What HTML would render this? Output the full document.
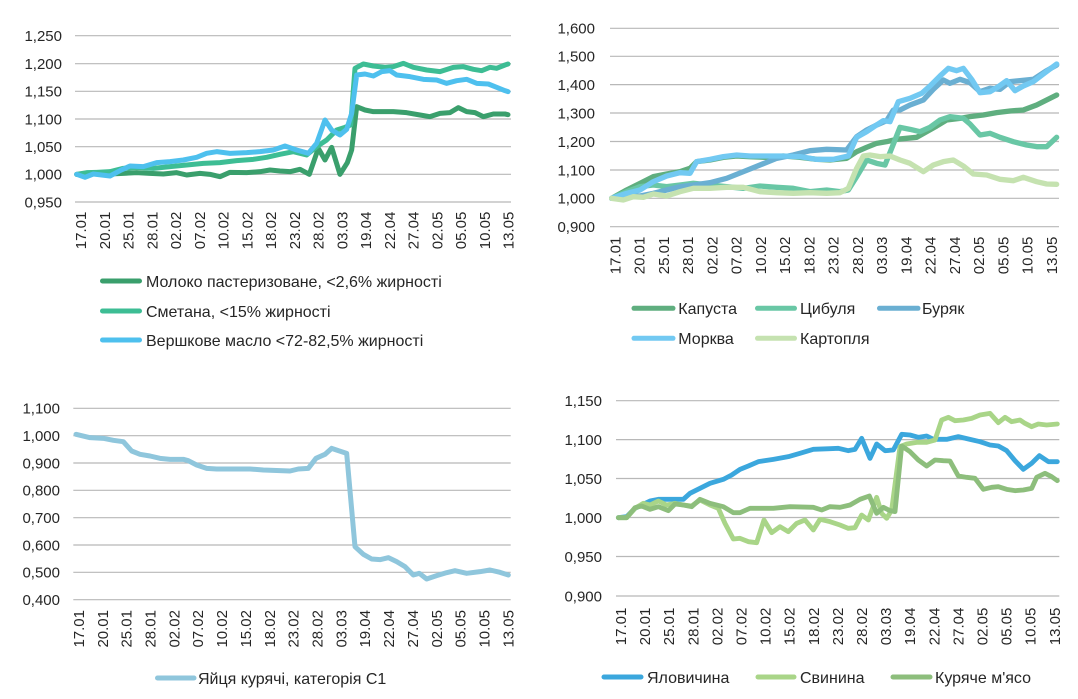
<!DOCTYPE html>
<html><head><meta charset="utf-8"><style>
html,body{margin:0;padding:0;background:#fff;}
svg{display:block;}
text{font-family:"Liberation Sans","DejaVu Sans",sans-serif;fill:#262626;}
.yl{font-size:15px;text-anchor:end;}
.xl{font-size:15px;text-anchor:end;}
.lg{font-size:16px;}
.g line{stroke:#b8b8b8;stroke-width:1.2;}
polyline{fill:none;stroke-linejoin:round;stroke-linecap:round;}
.leg{stroke-width:5;stroke-linecap:round;}
</style></head><body>
<svg width="1078" height="699" viewBox="0 0 1078 699" xmlns="http://www.w3.org/2000/svg">
<rect width="1078" height="699" fill="#fff"/>

<!-- ===== Chart 1 ===== -->
<g class="g">
<line x1="75" x2="511" y1="35.7" y2="35.7"/><line x1="75" x2="511" y1="63.7" y2="63.7"/><line x1="75" x2="511" y1="91.3" y2="91.3"/><line x1="75" x2="511" y1="119" y2="119"/><line x1="75" x2="511" y1="146.7" y2="146.7"/><line x1="75" x2="511" y1="174.3" y2="174.3"/><line x1="75" x2="511" y1="202" y2="202"/>
</g>
<text class="yl" x="62" y="41">1,250</text><text class="yl" x="62" y="69">1,200</text><text class="yl" x="62" y="96.6">1,150</text><text class="yl" x="62" y="124.3">1,100</text><text class="yl" x="62" y="152">1,050</text><text class="yl" x="62" y="179.6">1,000</text><text class="yl" x="62" y="207.3">0,950</text>
<g transform="translate(60,40) scale(0.33333)" stroke-width="15">
<polyline stroke="#3a9f6c" points="50,403 80,405 110,400 150,402 190,400 230,398 270,400 310,402 350,398 380,405 420,400 450,403 480,410 510,397 560,398 600,395 630,390 660,393 690,395 720,388 748,403 775,325 795,360 815,322 840,403 862,368 875,330 890,200 915,210 940,215 1000,215 1040,218 1080,225 1110,230 1140,220 1170,218 1195,203 1220,215 1245,218 1270,230 1300,222 1335,222 1344,224"/>
<polyline stroke="#3dbd94" points="50,403 80,398 110,397 150,395 190,385 230,382 280,385 330,380 380,375 430,370 480,368 530,362 580,358 620,352 660,343 700,335 740,345 770,320 800,300 830,270 855,262 872,255 885,85 910,72 940,78 975,82 1000,80 1030,70 1060,82 1100,90 1140,95 1180,82 1210,80 1240,88 1265,92 1290,82 1310,85 1335,75 1344,72"/>
<polyline stroke="#4ec0ee" points="50,403 75,412 100,402 125,405 150,408 180,392 210,378 250,380 290,368 330,365 370,360 410,352 440,340 470,335 510,340 560,338 600,335 640,330 675,318 710,330 745,340 770,310 795,240 815,270 840,285 860,268 875,220 890,105 915,102 940,108 965,95 990,92 1010,105 1050,110 1090,118 1130,120 1160,130 1190,122 1220,118 1250,130 1285,132 1310,142 1335,152 1344,155"/>
</g>
<g>
<text class="xl" transform="translate(86.1,211.7) rotate(-90)">17.01</text>
<text class="xl" transform="translate(109.9,211.7) rotate(-90)">20.01</text>
<text class="xl" transform="translate(133.6,211.7) rotate(-90)">25.01</text>
<text class="xl" transform="translate(157.4,211.7) rotate(-90)">28.01</text>
<text class="xl" transform="translate(181.1,211.7) rotate(-90)">02.02</text>
<text class="xl" transform="translate(204.9,211.7) rotate(-90)">07.02</text>
<text class="xl" transform="translate(228.6,211.7) rotate(-90)">10.02</text>
<text class="xl" transform="translate(252.4,211.7) rotate(-90)">15.02</text>
<text class="xl" transform="translate(276.1,211.7) rotate(-90)">18.02</text>
<text class="xl" transform="translate(299.9,211.7) rotate(-90)">23.02</text>
<text class="xl" transform="translate(323.6,211.7) rotate(-90)">28.02</text>
<text class="xl" transform="translate(347.4,211.7) rotate(-90)">03.03</text>
<text class="xl" transform="translate(371.1,211.7) rotate(-90)">19.04</text>
<text class="xl" transform="translate(394.9,211.7) rotate(-90)">22.04</text>
<text class="xl" transform="translate(418.6,211.7) rotate(-90)">27.04</text>
<text class="xl" transform="translate(442.4,211.7) rotate(-90)">02.05</text>
<text class="xl" transform="translate(466.1,211.7) rotate(-90)">05.05</text>
<text class="xl" transform="translate(489.9,211.7) rotate(-90)">10.05</text>
<text class="xl" transform="translate(513.6,211.7) rotate(-90)">13.05</text>
</g>
<line class="leg" x1="102.5" x2="139.5" y1="281" y2="281" stroke="#3a9f6c"/>
<text class="lg" x="146" y="286.8">Молоко пастеризоване, &lt;2,6% жирності</text>
<line class="leg" x1="102.5" x2="139.5" y1="311" y2="311" stroke="#3dbd94"/>
<text class="lg" x="146" y="316.8">Сметана, &lt;15% жирності</text>
<line class="leg" x1="102.5" x2="139.5" y1="340" y2="340" stroke="#4ec0ee"/>
<text class="lg" x="146" y="345.8">Вершкове масло &lt;72-82,5% жирності</text>

<!-- ===== Chart 2 ===== -->
<g class="g">
<line x1="610" x2="1059" y1="28.3" y2="28.3"/><line x1="610" x2="1059" y1="56.3" y2="56.3"/><line x1="610" x2="1059" y1="84.6" y2="84.6"/><line x1="610" x2="1059" y1="113" y2="113"/><line x1="610" x2="1059" y1="141.5" y2="141.5"/><line x1="610" x2="1059" y1="170" y2="170"/><line x1="610" x2="1059" y1="198.3" y2="198.3"/><line x1="610" x2="1059" y1="226.7" y2="226.7"/>
</g>
<text class="yl" x="595" y="33.6">1,600</text><text class="yl" x="595" y="61.6">1,500</text><text class="yl" x="595" y="89.9">1,400</text><text class="yl" x="595" y="118.3">1,300</text><text class="yl" x="595" y="146.8">1,200</text><text class="yl" x="595" y="175.3">1,100</text><text class="yl" x="595" y="203.6">1,000</text><text class="yl" x="595" y="232">0,900</text>
<g transform="translate(600,50) scale(0.33333)" stroke-width="16">
<polyline stroke="#5fae7f" points="35,445 80,420 120,400 160,380 200,372 240,365 270,355 290,335 330,330 370,322 410,318 450,320 500,322 550,318 600,322 650,328 690,330 740,325 770,305 800,292 830,280 860,275 890,268 920,265 950,262 980,245 1010,228 1040,210 1080,205 1110,200 1150,195 1190,188 1230,183 1270,180 1310,165 1340,150 1370,135"/>
<polyline stroke="#69c7a5" points="35,445 80,425 120,410 160,405 200,410 240,405 280,400 330,405 380,410 430,415 480,408 530,412 580,415 630,425 680,420 720,425 745,420 770,380 800,330 830,340 855,345 875,295 900,232 930,238 960,245 990,232 1020,210 1050,200 1090,205 1110,222 1140,255 1170,250 1200,262 1240,275 1280,285 1310,290 1340,290 1370,262"/>
<polyline stroke="#6aafd2" points="35,445 80,435 120,438 160,430 200,420 240,410 280,405 330,398 380,385 430,365 480,345 530,325 580,315 630,302 680,298 740,300 770,260 800,240 830,225 860,212 880,180 900,180 930,165 970,150 1000,118 1030,90 1050,100 1080,88 1110,98 1140,125 1170,115 1200,118 1230,95 1260,92 1300,88 1340,62 1370,45"/>
<polyline stroke="#72c9f2" points="35,445 80,430 120,420 160,395 200,378 240,368 270,370 290,335 330,328 370,320 410,315 450,318 550,318 600,320 650,328 700,328 745,318 770,262 800,245 825,228 850,212 870,215 895,155 930,145 965,130 990,108 1020,78 1045,55 1070,62 1090,55 1115,88 1140,128 1170,125 1195,110 1220,92 1245,122 1270,108 1300,95 1330,72 1370,42"/>
<polyline stroke="#c5e2b0" points="35,445 70,450 100,440 130,442 160,432 200,438 240,425 280,415 330,415 380,412 430,412 480,425 530,428 580,430 630,428 680,430 720,428 745,415 770,355 790,318 810,315 840,320 870,318 900,330 930,340 970,365 1000,345 1030,335 1060,330 1090,348 1120,372 1160,375 1200,388 1240,392 1270,382 1310,395 1340,402 1370,403"/>
</g>
<g>
<text class="xl" transform="translate(620.4,236.7) rotate(-90)">17.01</text>
<text class="xl" transform="translate(644.7,236.7) rotate(-90)">20.01</text>
<text class="xl" transform="translate(668.9,236.7) rotate(-90)">25.01</text>
<text class="xl" transform="translate(693.2,236.7) rotate(-90)">28.01</text>
<text class="xl" transform="translate(717.4,236.7) rotate(-90)">02.02</text>
<text class="xl" transform="translate(741.7,236.7) rotate(-90)">07.02</text>
<text class="xl" transform="translate(765.9,236.7) rotate(-90)">10.02</text>
<text class="xl" transform="translate(790.2,236.7) rotate(-90)">15.02</text>
<text class="xl" transform="translate(814.4,236.7) rotate(-90)">18.02</text>
<text class="xl" transform="translate(838.7,236.7) rotate(-90)">23.02</text>
<text class="xl" transform="translate(862.9,236.7) rotate(-90)">28.02</text>
<text class="xl" transform="translate(887.2,236.7) rotate(-90)">03.03</text>
<text class="xl" transform="translate(911.4,236.7) rotate(-90)">19.04</text>
<text class="xl" transform="translate(935.7,236.7) rotate(-90)">22.04</text>
<text class="xl" transform="translate(959.9,236.7) rotate(-90)">27.04</text>
<text class="xl" transform="translate(984.2,236.7) rotate(-90)">02.05</text>
<text class="xl" transform="translate(1008.4,236.7) rotate(-90)">05.05</text>
<text class="xl" transform="translate(1032.7,236.7) rotate(-90)">10.05</text>
<text class="xl" transform="translate(1056.9,236.7) rotate(-90)">13.05</text>
</g>
<line class="leg" x1="634" x2="673" y1="308.3" y2="308.3" stroke="#5fae7f"/>
<text class="lg" x="678.3" y="314.1">Капуста</text>
<line class="leg" x1="757.5" x2="794.5" y1="308.3" y2="308.3" stroke="#69c7a5"/>
<text class="lg" x="800" y="314.1">Цибуля</text>
<line class="leg" x1="879.5" x2="918" y1="308.3" y2="308.3" stroke="#6aafd2"/>
<text class="lg" x="922" y="314.1">Буряк</text>
<line class="leg" x1="634" x2="673" y1="338.3" y2="338.3" stroke="#72c9f2"/>
<text class="lg" x="678.3" y="344.1">Морква</text>
<line class="leg" x1="757.5" x2="794.5" y1="338.3" y2="338.3" stroke="#c5e2b0"/>
<text class="lg" x="800" y="344.1">Картопля</text>

<!-- ===== Chart 3 ===== -->
<g class="g">
<line x1="73.3" x2="510.7" y1="408.3" y2="408.3"/><line x1="73.3" x2="510.7" y1="435.7" y2="435.7"/><line x1="73.3" x2="510.7" y1="463" y2="463"/><line x1="73.3" x2="510.7" y1="490.3" y2="490.3"/><line x1="73.3" x2="510.7" y1="517.7" y2="517.7"/><line x1="73.3" x2="510.7" y1="545" y2="545"/><line x1="73.3" x2="510.7" y1="572.3" y2="572.3"/><line x1="73.3" x2="510.7" y1="599.7" y2="599.7"/>
</g>
<text class="yl" x="60" y="413.6">1,100</text><text class="yl" x="60" y="441">1,000</text><text class="yl" x="60" y="468.3">0,900</text><text class="yl" x="60" y="495.6">0,800</text><text class="yl" x="60" y="523">0,700</text><text class="yl" x="60" y="550.3">0,600</text><text class="yl" x="60" y="577.6">0,500</text><text class="yl" x="60" y="605">0,400</text>
<g transform="translate(60,395) scale(0.33333)" stroke-width="15">
<polyline stroke="#8fc6dc" points="48,118 90,128 130,130 160,136 190,140 215,168 240,178 270,183 300,190 330,193 370,193 385,197 410,210 440,220 470,222 570,222 610,225 660,227 690,228 715,222 745,220 768,190 795,178 815,160 835,167 860,175 885,455 910,478 935,492 960,494 985,488 1010,500 1035,515 1060,540 1078,535 1100,552 1130,542 1160,533 1185,527 1220,535 1260,530 1290,525 1320,532 1345,540"/>
</g>
<g>
<text class="xl" transform="translate(83.9,610) rotate(-90)">17.01</text>
<text class="xl" transform="translate(107.8,610) rotate(-90)">20.01</text>
<text class="xl" transform="translate(131.6,610) rotate(-90)">25.01</text>
<text class="xl" transform="translate(155.5,610) rotate(-90)">28.01</text>
<text class="xl" transform="translate(179.3,610) rotate(-90)">02.02</text>
<text class="xl" transform="translate(203.2,610) rotate(-90)">07.02</text>
<text class="xl" transform="translate(227.1,610) rotate(-90)">10.02</text>
<text class="xl" transform="translate(250.9,610) rotate(-90)">15.02</text>
<text class="xl" transform="translate(274.8,610) rotate(-90)">18.02</text>
<text class="xl" transform="translate(298.6,610) rotate(-90)">23.02</text>
<text class="xl" transform="translate(322.5,610) rotate(-90)">28.02</text>
<text class="xl" transform="translate(346.4,610) rotate(-90)">03.03</text>
<text class="xl" transform="translate(370.2,610) rotate(-90)">19.04</text>
<text class="xl" transform="translate(394.1,610) rotate(-90)">22.04</text>
<text class="xl" transform="translate(417.9,610) rotate(-90)">27.04</text>
<text class="xl" transform="translate(441.8,610) rotate(-90)">02.05</text>
<text class="xl" transform="translate(465.7,610) rotate(-90)">05.05</text>
<text class="xl" transform="translate(489.5,610) rotate(-90)">10.05</text>
<text class="xl" transform="translate(513.4,610) rotate(-90)">13.05</text>
</g>
<line class="leg" x1="157.5" x2="194" y1="678" y2="678" stroke="#8fc6dc"/>
<text class="lg" x="198" y="683.8">Яйця курячі, категорія С1</text>

<!-- ===== Chart 4 ===== -->
<g class="g">
<line x1="616" x2="1059.3" y1="400.7" y2="400.7"/><line x1="616" x2="1059.3" y1="439.6" y2="439.6"/><line x1="616" x2="1059.3" y1="478.5" y2="478.5"/><line x1="616" x2="1059.3" y1="517.5" y2="517.5"/><line x1="616" x2="1059.3" y1="556.5" y2="556.5"/><line x1="616" x2="1059.3" y1="596" y2="596"/>
</g>
<text class="yl" x="602" y="406">1,150</text><text class="yl" x="602" y="444.9">1,100</text><text class="yl" x="602" y="483.8">1,050</text><text class="yl" x="602" y="522.8">1,000</text><text class="yl" x="602" y="561.8">0,950</text><text class="yl" x="602" y="601.3">0,900</text>
<g transform="translate(600,390) scale(0.33333)" stroke-width="14.5">
<polyline stroke="#3ba7dd" points="55,383 80,380 105,355 125,345 150,333 175,328 250,328 270,310 300,295 330,280 370,268 395,255 420,238 445,228 475,215 520,208 565,200 600,190 640,178 690,176 715,175 745,182 765,178 785,145 810,205 830,162 855,182 880,180 905,133 930,135 955,142 980,138 1000,148 1040,148 1075,140 1110,148 1140,155 1170,165 1195,168 1220,182 1245,212 1270,238 1295,220 1318,197 1345,215 1372,215"/>
<polyline stroke="#a9d588" points="55,383 80,383 105,355 130,340 150,345 175,333 200,345 225,340 250,345 275,348 300,330 330,345 355,355 375,400 400,447 420,445 445,455 470,458 492,390 515,428 540,410 565,425 590,400 615,390 640,420 660,388 690,395 720,405 745,415 765,413 785,375 805,390 830,322 845,370 860,385 875,360 900,170 920,162 950,157 980,157 1005,150 1025,90 1045,82 1065,92 1090,90 1115,85 1140,75 1170,70 1195,98 1215,82 1235,95 1260,90 1275,100 1295,110 1315,102 1340,105 1372,102"/>
<polyline stroke="#8dbe7c" points="55,383 80,383 105,353 125,348 150,358 175,350 205,362 225,342 250,345 275,350 300,328 330,340 370,350 400,368 420,368 450,355 520,355 570,350 640,352 665,360 690,350 720,352 750,345 780,328 808,318 830,370 850,352 870,362 885,365 905,168 930,185 955,210 980,228 1005,210 1030,212 1050,213 1075,258 1100,262 1125,265 1150,298 1175,292 1195,290 1220,298 1245,302 1270,300 1295,295 1310,262 1335,250 1355,260 1372,272"/>
</g>
<g>
<text class="xl" transform="translate(626,607.7) rotate(-90)">17.01</text>
<text class="xl" transform="translate(650.1,607.7) rotate(-90)">20.01</text>
<text class="xl" transform="translate(674.2,607.7) rotate(-90)">25.01</text>
<text class="xl" transform="translate(698.3,607.7) rotate(-90)">28.01</text>
<text class="xl" transform="translate(722.4,607.7) rotate(-90)">02.02</text>
<text class="xl" transform="translate(746.5,607.7) rotate(-90)">07.02</text>
<text class="xl" transform="translate(770.6,607.7) rotate(-90)">10.02</text>
<text class="xl" transform="translate(794.7,607.7) rotate(-90)">15.02</text>
<text class="xl" transform="translate(818.8,607.7) rotate(-90)">18.02</text>
<text class="xl" transform="translate(842.9,607.7) rotate(-90)">23.02</text>
<text class="xl" transform="translate(867,607.7) rotate(-90)">28.02</text>
<text class="xl" transform="translate(891.1,607.7) rotate(-90)">03.03</text>
<text class="xl" transform="translate(915.2,607.7) rotate(-90)">19.04</text>
<text class="xl" transform="translate(939.3,607.7) rotate(-90)">22.04</text>
<text class="xl" transform="translate(963.4,607.7) rotate(-90)">27.04</text>
<text class="xl" transform="translate(987.5,607.7) rotate(-90)">02.05</text>
<text class="xl" transform="translate(1011.6,607.7) rotate(-90)">05.05</text>
<text class="xl" transform="translate(1035.7,607.7) rotate(-90)">10.05</text>
<text class="xl" transform="translate(1059.8,607.7) rotate(-90)">13.05</text>
</g>
<line class="leg" x1="604" x2="641" y1="677" y2="677" stroke="#3ba7dd"/>
<text class="lg" x="647" y="682.8">Яловичина</text>
<line class="leg" x1="758" x2="794" y1="677" y2="677" stroke="#a9d588"/>
<text class="lg" x="800" y="682.8">Свинина</text>
<line class="leg" x1="893" x2="930" y1="677" y2="677" stroke="#8dbe7c"/>
<text class="lg" x="935" y="682.8">Куряче м'ясо</text>
</svg>
</body></html>
